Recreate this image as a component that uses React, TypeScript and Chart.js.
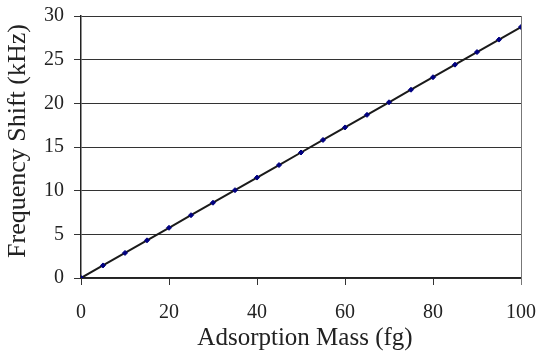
import React, { useEffect, useRef } from "react";
import { Chart, registerables } from "chart.js";

Chart.register(...registerables);

const massFg = [0, 5, 10, 15, 20, 25, 30, 35, 40, 45, 50, 55, 60, 65, 70, 75, 80, 85, 90, 95, 100];
const shiftKHz = [0, 1.44, 2.87, 4.31, 5.75, 7.19, 8.62, 10.06, 11.5, 12.93, 14.37, 15.81, 17.24, 18.68, 20.12, 21.56, 22.99, 24.43, 25.87, 27.3, 28.74];
const xTitle = "Adsorption Mass (fg)";
const yTitle = "Frequency Shift (kHz)";

const FONT = "'Liberation Serif', 'Times New Roman', serif";

const frameAndTitles = {
  id: "frameAndTitles",
  afterDraw(chart: any) {
    const { ctx, chartArea } = chart;
    ctx.save();
    ctx.strokeStyle = "#777";
    ctx.lineWidth = 1;
    ctx.beginPath();
    ctx.moveTo(Math.round(chartArea.right) + 0.5, chartArea.top);
    ctx.lineTo(Math.round(chartArea.right) + 0.5, chartArea.bottom + 7);
    ctx.stroke();

    ctx.fillStyle = "#222";
    ctx.font = `25px ${FONT}`;
    ctx.textAlign = "center";
    ctx.textBaseline = "alphabetic";
    ctx.fillText(xTitle, (chartArea.left + chartArea.right) / 2 + 4, chart.height - 6);

    ctx.font = `26px ${FONT}`;
    ctx.translate(18, (chartArea.top + chartArea.bottom) / 2 - 6);
    ctx.rotate(-Math.PI / 2);
    ctx.textBaseline = "middle";
    ctx.fillText(yTitle, 0, 0);
    ctx.restore();
  },
};

export default function App() {
  const ref = useRef<HTMLCanvasElement | null>(null);
  useEffect(() => {
    document.body.style.margin = "0";
    const chart = new Chart(ref.current as HTMLCanvasElement, {
      type: "scatter",
      data: {
        datasets: [
          {
            data: massFg.map((x, i) => ({ x, y: shiftKHz[i] })),
            showLine: true,
            borderColor: "#1a1a1a",
            borderWidth: 2,
            pointStyle: "rectRot",
            pointRadius: 2.5,
            pointBackgroundColor: "#000080",
            pointBorderColor: "#000080",
            pointBorderWidth: 1,
          },
        ],
      },
      options: {
        animation: false,
        responsive: false,
        maintainAspectRatio: false,
        layout: { padding: { top: 16, right: 17, left: 0, bottom: 0 } },
        plugins: { legend: { display: false }, tooltip: { enabled: false } },
        scales: {
          x: {
            type: "linear",
            min: 0,
            max: 100,
            ticks: { stepSize: 20, color: "#222", font: { family: FONT, size: 20 }, padding: 16 },
            grid: { drawOnChartArea: false, drawTicks: true, tickLength: 7, color: "#333" },
            border: { display: true, color: "#222", width: 1.5 },
            title: { display: false },
            afterFit: (s: any) => {
              s.height = 73;
              s.paddingLeft = 0;
              s.paddingRight = 0;
            },
          },
          y: {
            min: 0,
            max: 30,
            ticks: { stepSize: 5, color: "#222", font: { family: FONT, size: 20 }, padding: 10 },
            grid: { color: "#333", lineWidth: 1, tickLength: 7 },
            border: { display: true, color: "#222", width: 1.5 },
            title: { display: false },
            afterFit: (s: any) => {
              s.width = 81;
              s.paddingTop = 0;
              s.paddingBottom = 0;
            },
          },
        },
      },
      plugins: [frameAndTitles],
    });
    return () => chart.destroy();
  }, []);
  return (
    <div style={{ width: 538, height: 351 }}>
      <canvas ref={ref} width={538} height={351} style={{ display: "block" }} />
    </div>
  );
}
